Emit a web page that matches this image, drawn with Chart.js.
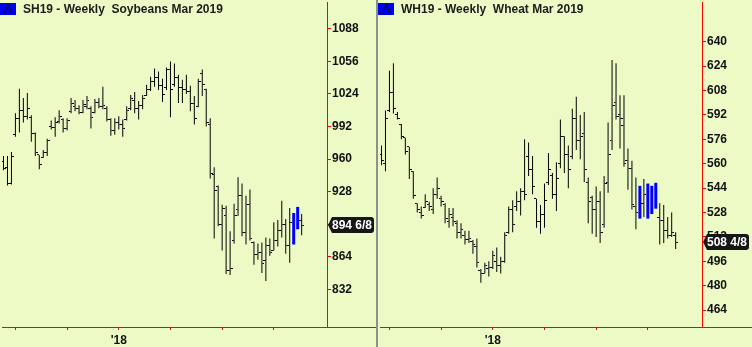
<!DOCTYPE html>
<html>
<head>
<meta charset="utf-8">
<script src="https://cdn.jsdelivr.net/npm/chart.js@4/dist/chart.umd.min.js"></script>
<style>
  body { margin: 0; width: 752px; height: 347px; overflow: hidden; position: relative; background: #ecfbc6; }
  canvas { position: absolute; top: 0; }
  #soy { left: 0; }
  #wheat { left: 378px; }
  #sep { position: absolute; left: 376px; top: 0; width: 2px; height: 347px; background: #8f8f8f; }
  .ttl { position: absolute; top: 1px; font: bold 12px "Liberation Sans", Arial, sans-serif; line-height: 16px; color: #1c1c1c; white-space: pre; }
  .ttl span { position: absolute; left: 0; top: 2px; width: 16px; height: 12px; line-height: 12px; background: #0000f0; color: #0a0a1e; text-align: center; font-weight: normal; }
  .ttl b { position: absolute; left: 23px; top: 0; }
</style>
</head>
<body>
<canvas id="soy" width="376" height="347"></canvas>
<div id="sep"></div>
<canvas id="wheat" width="374" height="347"></canvas>
<div class="ttl" style="left:0"><span>A</span><b>SH19 - Weekly  Soybeans Mar 2019</b></div>
<div class="ttl" style="left:378px"><span>A</span><b>WH19 - Weekly  Wheat Mar 2019</b></div>
<script>
// weekly bars, oldest first
const soyOpen  = [958,952,936,984,1000,1008,1002,1001,985,964, 962,966,992,991,997,999,990,1007,1012,1010,
                  1006,1012,1010,1006,1016,1012,1010,999,988,996, 994,999,1010,1018,1010,1013,1022,1028,1036,1040,
                  1032,1030,1048,1033,1040,1030,1028,1026,1015,1012, 1044,1028,994,945,933,896,905,850,880,910,
                  924,888,915,878,866,868,860,875,870,880, 890,896,875,898,895,900]
const soyHigh  = [963,963,967,1005,1029,1020,1025,1003,986,964, 969,980,998,1001,1008,1000,1000,1020,1018,1013,
                  1018,1022,1012,1019,1020,1031,1012,1000,1000,1002, 999,1012,1023,1026,1017,1023,1033,1041,1049,1046,
                  1039,1050,1056,1054,1043,1038,1043,1032,1022,1039, 1048,1029,1000,952,934,915,914,889,916,942,
                  936,924,930,879,877,878,883,882,898,900, 919,901,912,907,913,906]
const soyLow   = [949,934,935,982,986,996,999,977,963,950, 961,963,989,982,995,986,988,1005,1007,1004,
                  1005,1009,990,1005,1010,1009,997,983,984,989, 982,998,1008,1005,999,1009,1022,1027,1031,1028,
                  1016,1028,1001,1031,1015,1015,1024,1007,994,1011, 1022,992,941,882,894,870,847,846,877,904,
                  884,876,880,856,861,848,840,865,870,874, 883,867,858,876,891,885]
const soyClose = [951,936,963,1000,1008,1002,1010,985,966,955, 966,978,991,996,1002,990,998,1015,1010,1006,
                  1014,1018,1001,1016,1012,1013,999,988,996,994, 990,1008,1020,1010,1013,1020,1028,1036,1040,1032,
                  1023,1048,1028,1040,1030,1028,1026,1015,1000,1036, 1033,996,946,929,896,911,850,852,905,924,
                  888,915,882,866,868,857,875,868,880,890, 896,875,898,885,905,894.75]
const soyBlue = [73, 74]

const wheatOpen  = [566,560,595,607,592,586,577,571,555,534, 528,531,533,530,540,537,533,522,525,521,
                    515,513,510,509,506,490,488,491,492,496, 493,496,515,530,532,535,542,565,556,537,
                    522,527,548,552,540,560,578,566,565,590, 575,580,548,538,530,535,520,548,575,600,
                    592,585,562,557,532,528,534,541,530,535, 525,523,516,513,513]
const wheatHigh  = [572,595,621,626,594,586,577,571,555,534, 532,540,535,544,551,539,534,531,531,523,
                    521,516,516,510,511,491,495,496,503,505, 499,515,532,536,542,544,576,574,565,537,
                    533,547,567,554,561,589,578,572,596,604, 592,594,551,539,545,542,552,587,628,626,
                    605,605,570,562,551,545.5,550,547,545.5,547.5, 534,533,525,528,515]
const wheatLow   = [559,555,594,593,589,576,566,550,537,528, 524,531,529,527,537,532,521,518,519,511,
                    511,507,508,501,492,482,488,486,491,489, 488,495,514,515,529,526,536,552,540,518,
                    514,518,546,537,529,557,554,544,563,569, 563,548,521,514,512,508,518,541,569,589,
                    570,558,543,530,517,524,525,524,527,530.5, 507,508,511,512,504]
const wheatClose = [562,590,607,596,590,578,568,556,539,530, 526,535,532,540,544,535,524,527,522,515,
                    517,510,511,507,495,488,493,492,500,493, 496,513,530,520,535,542,540,556,545,522,
                    527,536,556,540,550,578,566,556,590,575, 578,556,535,530,535,515,547,566,598,591,
                    590,560,557,533,528,530,540,530,535,533, 523,516,513,515,508.5]
const wheatBlue = [65, 67, 68, 69]

// axes
const soyYTicks = [832, 864, 896, 928, 960, 992, 1024, 1056, 1088]
const wheatYTicks = [464, 480, 496, 512, 528, 544, 560, 576, 592, 608, 624, 640]
const soyXTicks = [3, 16, 29, 42, 55, 68]
const wheatXTicks = [2, 15, 28, 41, 54, 67]
const xTickLabels = ['', '', "'18", '', '', '']
const soyLast = '894 6/8'
const wheatLast = '508 4/8'

const FONT = '"Liberation Sans", Arial, sans-serif'
const RED = '#ff0000'

const tickImg = side => {
  const c = document.createElement('canvas')
  c.width = 5; c.height = 1
  const g = c.getContext('2d')
  g.fillStyle = '#000'
  g.fillRect(side < 0 ? 0 : 3, 0, 2, 1)
  return c
}
const openTick = tickImg(-1)
const closeTick = tickImg(1)

const lastPrice = {
  id: 'lastPrice',
  afterDraw(chart, args, o) {
    const { ctx, chartArea: a, scales: { y } } = chart
    ctx.save()
    ctx.strokeStyle = RED
    ctx.lineWidth = 1
    ctx.beginPath()
    ctx.moveTo(a.right, a.bottom + 0.5)
    ctx.lineTo(chart.width, a.bottom + 0.5)
    ctx.stroke()

    const py = Math.round(y.getPixelForValue(o.value))
    const x0 = a.right + 1, w = 46, h = 16, t = py - 8
    ctx.fillStyle = '#161616'
    ctx.beginPath()
    ctx.moveTo(x0, py)
    ctx.lineTo(x0 + 4, t)
    ctx.lineTo(x0 + w - 3, t)
    ctx.quadraticCurveTo(x0 + w, t, x0 + w, t + 3)
    ctx.lineTo(x0 + w, t + h - 3)
    ctx.quadraticCurveTo(x0 + w, t + h, x0 + w - 3, t + h)
    ctx.lineTo(x0 + 4, t + h)
    ctx.closePath()
    ctx.fill()
    ctx.fillStyle = '#fff'
    ctx.font = 'bold 12px ' + FONT
    ctx.textBaseline = 'middle'
    ctx.textAlign = 'left'
    ctx.fillText(o.text, x0 + 4, py + 1)
    ctx.restore()
  }
}

const ohlcChart = (id, opn, high, low, close, blue, yMin, yMax, yTicks, xTicks, lastText, axisW) => {
  const canvas = document.getElementById(id)
  const plotW = canvas.width - axisW
  const plain = [], blueBars = [], opens = [], closes = []
  high.forEach((h, i) => {
    if (blue.includes(i)) {
      blueBars.push({ x: i, y: [low[i], h] })
    } else {
      plain.push({ x: i, y: [low[i], h] })
      opens.push({ x: i, y: opn[i] })
      closes.push({ x: i, y: close[i] })
    }
  })

  new Chart(canvas, {
    type: 'bar',
    data: {
      datasets: [
        { data: plain, backgroundColor: '#000', barThickness: 1, maxBarThickness: 1, grouped: false, inflateAmount: 0 },
        { data: blueBars, backgroundColor: '#0000ff', barThickness: 3, maxBarThickness: 3, grouped: false, inflateAmount: 0 },
        { type: 'line', data: opens, showLine: false, pointStyle: openTick, pointRadius: 1, pointHoverRadius: 1 },
        { type: 'line', data: closes, showLine: false, pointStyle: closeTick, pointRadius: 1, pointHoverRadius: 1 }
      ]
    },
    options: {
      responsive: false,
      animation: false,
      events: [],
      layout: { padding: 0 },
      plugins: {
        legend: { display: false },
        tooltip: { enabled: false },
        lastPrice: { text: lastText, value: close[close.length - 1] }
      },
      scales: {
        x: {
          type: 'linear',
          min: -0.375,
          max: -0.375 + plotW / 4,
          offset: false,
          afterBuildTicks: s => { s.ticks = xTicks.map(v => ({ value: v })) },
          afterFit: s => { s.height = 20; s.paddingLeft = 0; s.paddingRight = 0 },
          border: { color: RED, width: 1 },
          grid: { drawOnChartArea: false, offset: false, tickLength: 3, color: RED },
          ticks: {
            autoSkip: false, maxRotation: 0, padding: 3, color: '#111',
            font: { family: FONT, size: 12, weight: 'bold' },
            callback: (v, i) => xTickLabels[i]
          }
        },
        y: {
          position: 'right',
          min: yMin,
          max: yMax,
          beginAtZero: false,
          afterBuildTicks: s => { s.ticks = yTicks.map(v => ({ value: v })) },
          afterFit: s => { s.width = axisW; s.paddingTop = 0; s.paddingBottom = 0 },
          border: { color: RED, width: 1 },
          grid: { drawOnChartArea: false, tickLength: 4, color: RED },
          ticks: {
            autoSkip: false, padding: 1, color: '#111',
            font: { family: FONT, size: 12, weight: 'bold' },
            callback: v => String(v)
          }
        }
      }
    },
    plugins: [lastPrice]
  })
}

ohlcChart('soy', soyOpen, soyHigh, soyLow, soyClose, soyBlue, 794.9, 1114.4, soyYTicks, soyXTicks, soyLast, 49)
ohlcChart('wheat', wheatOpen, wheatHigh, wheatLow, wheatClose, wheatBlue, 452.9, 666.1, wheatYTicks, wheatXTicks, wheatLast, 50)
</script>
</body>
</html>
